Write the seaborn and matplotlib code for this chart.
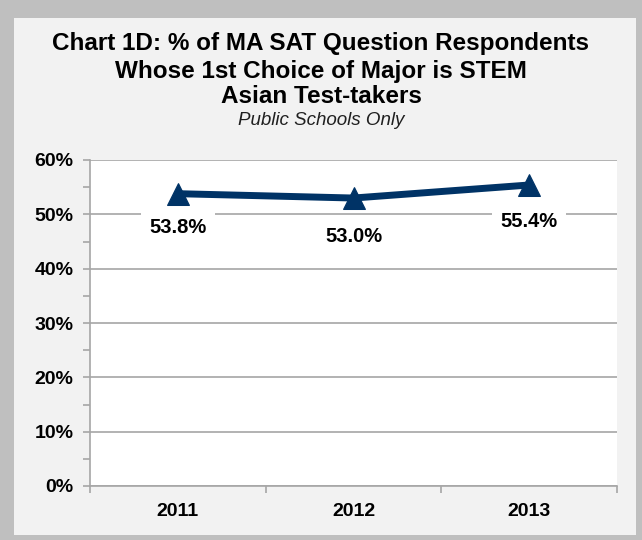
import numpy as np
import pandas as pd
import matplotlib.pyplot as plt
import seaborn as sns
from matplotlib.patches import Rectangle
from matplotlib.ticker import MultipleLocator, FixedLocator, PercentFormatter

years = ['2011', '2012', '2013']
pct_stem = [53.8, 53.0, 55.4]
y_ticks = [0, 10, 20, 30, 40, 50, 60]

title_lines = ['Chart 1D: % of MA SAT Question Respondents',
               'Whose 1st Choice of Major is STEM',
               'Asian Test-takers']
subtitle = 'Public Schools Only'

sns.set_style('white')
plt.rcParams['font.family'] = ['Liberation Sans', 'DejaVu Sans']
plt.rcParams['text.color'] = 'black'

df = pd.DataFrame({'year': years, 'pct': pct_stem})
navy = '#003366'

fig = plt.figure(figsize=(6.42, 5.40), dpi=100)
fig.patch.set_facecolor('#bfbfbf')
W, H = 642, 540
# inner light panel
fig.patches.append(Rectangle((14 / W, 5 / H), (636 - 14) / W, (522 - 5) / H,
                             transform=fig.transFigure, facecolor='#f2f2f2',
                             edgecolor='none', zorder=-10))

ax = fig.add_axes([90 / W, (540 - 486) / H, (617 - 90) / W, (486 - 160) / H])
ax.set_zorder(5)
ax.set_facecolor('white')

sns.lineplot(data=df, x='year', y='pct', ax=ax, color=navy, linewidth=5,
             marker='^', markersize=16, markeredgecolor=navy, zorder=5)

ax.set_ylim(0, 60)
ax.set_xlim(-0.5, 2.5)
ax.yaxis.set_major_locator(FixedLocator(y_ticks))
ax.yaxis.set_minor_locator(MultipleLocator(5))
ax.yaxis.set_major_formatter(PercentFormatter(decimals=0))
ax.xaxis.set_minor_locator(FixedLocator([-0.5, 0.5, 1.5, 2.5]))
ax.grid(axis='y', color='#a6a6a6', linewidth=1.2, zorder=0)
ax.set_axisbelow(True)

for s in ['top', 'right']:
    ax.spines[s].set_visible(False)
for s in ['left', 'bottom']:
    ax.spines[s].set_color('#a6a6a6')
    ax.spines[s].set_linewidth(1.2)

ax.tick_params(axis='y', which='both', direction='out', left=True, length=5,
               color='#a6a6a6', width=1.2, labelsize=14, labelcolor='black', pad=7)
ax.tick_params(axis='x', which='major', length=0, pad=12, labelsize=14,
               labelcolor='black')
ax.tick_params(axis='x', which='minor', direction='out', bottom=True, length=5,
               color='#a6a6a6', width=1.2)
for lab in ax.get_xticklabels() + ax.get_yticklabels():
    lab.set_fontweight('bold')
ax.set_xlabel('')
ax.set_ylabel('')

label_offsets = [-24.5, -28, -26]
for i, (v, off) in enumerate(zip(pct_stem, label_offsets)):
    ax.annotate(f'{v:.1f}%', (i, v), xytext=(0, off), textcoords='offset points',
                ha='center', va='center', fontsize=14.5, fontweight='bold',
                bbox=dict(facecolor='white', edgecolor='none', pad=6), zorder=6)

baselines = [50, 78, 103]
for line, yb in zip(title_lines, baselines):
    fig.text(0.5, 1 - yb / H, line, ha='center', va='baseline',
             fontsize=17.5, fontweight='bold')
fig.text(0.5, 1 - 125 / H, subtitle, ha='center', va='baseline',
         fontsize=13.5, style='italic', color='#202020')

fig.savefig('out.png', dpi=100, facecolor=fig.get_facecolor())
